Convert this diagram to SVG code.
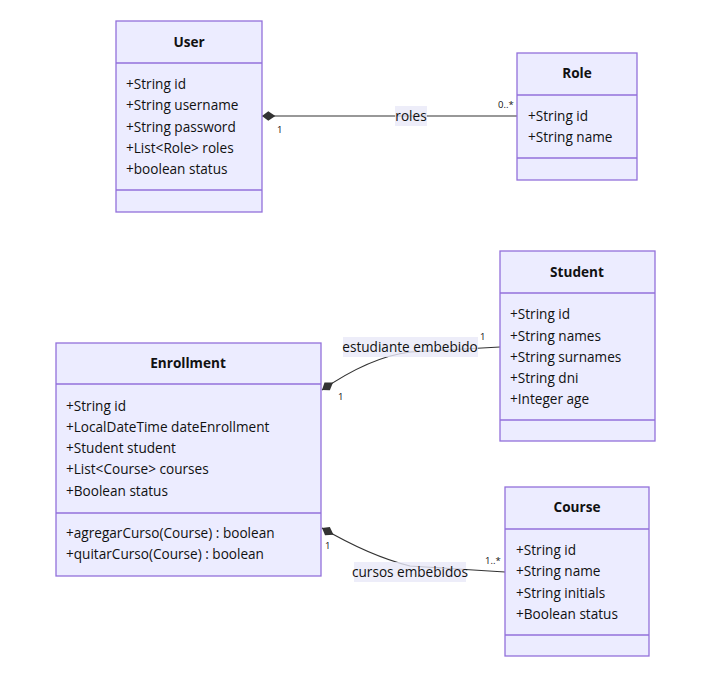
<svg xmlns="http://www.w3.org/2000/svg" width="713" height="688" viewBox="0 0 713 688">
<defs>
<style>
.box{fill:#ECECFF;stroke:#9370DB;stroke-width:1.3}
.div{stroke:#9370DB;stroke-width:1.3}
.t{font-family:"Open Sans","DejaVu Sans",sans-serif;font-size:13.6px;fill:#111}
.h{font-family:"Open Sans","DejaVu Sans",sans-serif;font-size:13.6px;font-weight:bold;fill:#111;text-anchor:middle}
.m{font-family:"Open Sans","DejaVu Sans",sans-serif;font-size:9.5px;fill:#111}
.e{fill:none;stroke:#333;stroke-width:1.2}
.lb{fill:#E8E8F8;opacity:0.8}
</style>
<marker id="dia" viewBox="0 0 20 14" refX="1" refY="7" markerWidth="16" markerHeight="11" orient="auto" markerUnits="userSpaceOnUse">
<path d="M1,7 L9,1 L18,7 L9,13 Z" fill="#333"/>
</marker>
</defs>
<rect width="713" height="688" fill="#fff"/>
<g id="connectors">
<path class="e" d="M262,116 L517,116" marker-start="url(#dia)"/>
<path class="e" d="M322,390 Q370,357 410,352 L500,347" marker-start="url(#dia)"/>
<path class="e" d="M322,528 Q370,556 410,566 L505,572" marker-start="url(#dia)"/>
<rect class="lb" x="395" y="106" width="32" height="20"/>
<text class="t" x="411" y="121" text-anchor="middle">roles</text>
<text class="m" x="277" y="133" fill="#333">1</text>
<text class="m" x="498" y="108">0..*</text>
<rect class="lb" x="343" y="337" width="135" height="20"/>
<text class="t" x="410" y="352" text-anchor="middle">estudiante embebido</text>
<text class="m" x="480" y="340">1</text>
<text class="m" x="338" y="400">1</text>
<rect class="lb" x="354" y="562" width="112" height="20"/>
<text class="t" x="410" y="577" text-anchor="middle">cursos embebidos</text>
<text class="m" x="325" y="549">1</text>
<text class="m" x="485" y="564">1..*</text>
</g>
<g id="User">
<rect class="box" x="116" y="21" width="146" height="191"/>
<line class="div" x1="116" y1="63" x2="262" y2="63"/>
<line class="div" x1="116" y1="190" x2="262" y2="190"/>
<text class="h" x="189" y="47">User</text>
<text class="t" x="126" y="89">+String id</text>
<text class="t" x="126" y="110">+String username</text>
<text class="t" x="126" y="132">+String password</text>
<text class="t" x="126" y="153">+List&lt;Role&gt; roles</text>
<text class="t" x="126" y="174">+boolean status</text>
</g>
<g id="Role">
<rect class="box" x="517" y="53" width="120" height="127"/>
<line class="div" x1="517" y1="95" x2="637" y2="95"/>
<line class="div" x1="517" y1="158" x2="637" y2="158"/>
<text class="h" x="577" y="78">Role</text>
<text class="t" x="528" y="121">+String id</text>
<text class="t" x="528" y="142">+String name</text>
</g>
<g id="Student">
<rect class="box" x="500" y="251" width="155" height="190"/>
<line class="div" x1="500" y1="293" x2="655" y2="293"/>
<line class="div" x1="500" y1="420" x2="655" y2="420"/>
<text class="h" x="577" y="277">Student</text>
<text class="t" x="510" y="319">+String id</text>
<text class="t" x="510" y="341">+String names</text>
<text class="t" x="510" y="362">+String surnames</text>
<text class="t" x="510" y="383">+String dni</text>
<text class="t" x="510" y="404">+Integer age</text>
</g>
<g id="Enrollment">
<rect class="box" x="56" y="343" width="265" height="233"/>
<line class="div" x1="56" y1="384" x2="321" y2="384"/>
<line class="div" x1="56" y1="513" x2="321" y2="513"/>
<text class="h" x="188" y="368">Enrollment</text>
<text class="t" x="66" y="411">+String id</text>
<text class="t" x="66" y="432">+LocalDateTime dateEnrollment</text>
<text class="t" x="66" y="453">+Student student</text>
<text class="t" x="66" y="474">+List&lt;Course&gt; courses</text>
<text class="t" x="66" y="496">+Boolean status</text>
<text class="t" x="66" y="538">+agregarCurso(Course) : boolean</text>
<text class="t" x="66" y="559">+quitarCurso(Course) : boolean</text>
</g>
<g id="Course">
<rect class="box" x="505" y="487" width="144" height="169"/>
<line class="div" x1="505" y1="529" x2="649" y2="529"/>
<line class="div" x1="505" y1="635" x2="649" y2="635"/>
<text class="h" x="577" y="512">Course</text>
<text class="t" x="516" y="555">+String id</text>
<text class="t" x="516" y="576">+String name</text>
<text class="t" x="516" y="598">+String initials</text>
<text class="t" x="516" y="619">+Boolean status</text>
</g>
</svg>
